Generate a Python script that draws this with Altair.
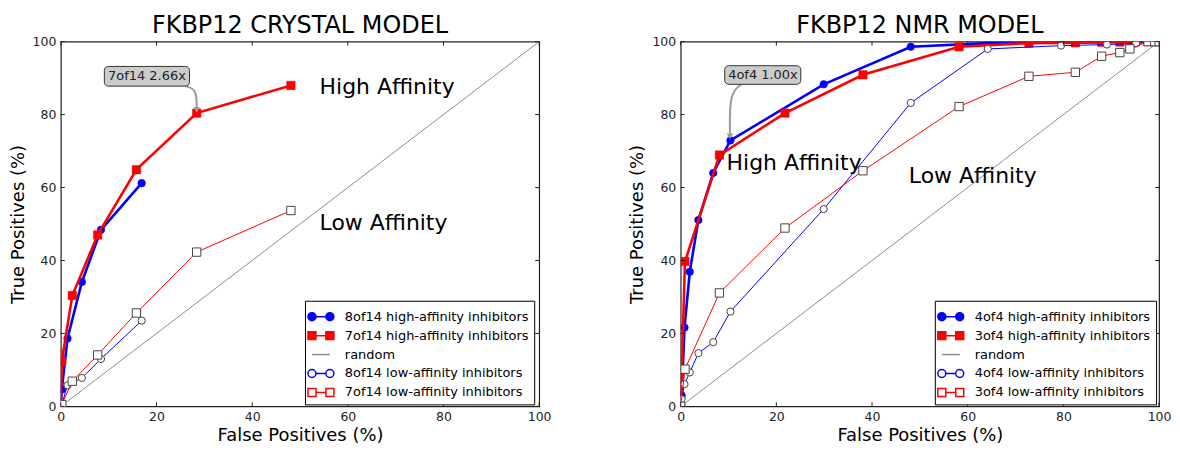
import altair as alt
import pandas as pd

FONT = "DejaVu Sans"
BLUE = "#0000ff"
RED = "#ff0000"
GRAY = "#8c8c8c"
W, H = 480, 366

tick_values = [0, 20, 40, 60, 80, 100]
random_fp = [0, 100]
random_tp = [0, 100]

# ---- FKBP12 crystal model ----
cry8_fp = [0, 0.2, 1.4, 4.4, 8.4, 16.9]
cry8_high = [0, 4.6, 18.6, 34.1, 48.4, 61.2]
cry8_low = [0, 0.5, 5.8, 7.8, 13.0, 23.5]
cry7_fp = [0, 0.2, 2.4, 7.7, 15.8, 28.4, 48.1]
cry7_high = [0, 12.4, 30.4, 47.0, 64.9, 80.4, 88.0]
cry7_low = [0, 0.5, 6.9, 14.1, 25.6, 42.3, 53.7]
cry_labels = ["8of14 high-affinity inhibitors", "7of14 high-affinity inhibitors", "random",
              "8of14 low-affinity inhibitors", "7of14 low-affinity inhibitors"]

# ---- FKBP12 NMR model ----
nmr4_fp = [0, 0.2, 0.8, 1.9, 3.7, 6.8, 10.4, 29.9, 48.1, 64.2, 79.5, 89.1, 95.2, 100]
nmr4_high = [0, 3.0, 21.6, 36.9, 51.1, 64.0, 72.9, 88.3, 98.6, 99.6, 99.8, 99.9, 100, 100]
nmr4_low = [0, 2.0, 6.1, 9.3, 14.6, 17.6, 26.0, 54.1, 83.2, 98.0, 98.9, 99.2, 99.5, 100]
nmr3_fp = [0, 0.9, 8.1, 21.8, 38.1, 58.2, 72.8, 82.5, 88.0, 91.8, 93.9, 97.7, 99.1, 100]
nmr3_high = [0, 39.7, 68.9, 80.4, 90.9, 98.6, 99.6, 99.7, 99.8, 99.9, 100, 100, 100, 100]
nmr3_low = [0, 10.2, 31.1, 48.9, 64.6, 82.2, 90.5, 91.6, 96.0, 97.0, 98.0, 100, 100, 100]
nmr_labels = ["4of4 high-affinity inhibitors", "3of4 high-affinity inhibitors", "random",
              "4of4 low-affinity inhibitors", "3of4 low-affinity inhibitors"]

# annotations (data coordinates)
cry_note = {"text": "7of14 2.66x", "box_x": [9.1, 26.9], "box_y": [87.8, 93.2], "tx": 18.0, "ty": 90.5,
            "arrow_x": [26.0, 28.4, 28.4], "arrow_y": [87.8, 87.0, 81.9]}
nmr_note = {"text": "4of4 1.00x", "box_x": [9.2, 25.1], "box_y": [88.3, 93.4], "tx": 17.2, "ty": 90.9,
            "arrow_x": [12.7, 10.2, 10.3], "arrow_y": [88.3, 86.0, 74.6]}
cry_texts = {"label": ["High Affinity", "Low Affinity"], "x": [54.1, 54.1], "y": [87.5, 50.4]}
nmr_texts = {"label": ["High Affinity", "Low Affinity"], "x": [9.6, 47.7], "y": [66.8, 63.2]}

CIRC = "M-1.3,0A0.4,0.4,0,1,0,-0.5,0A0.4,0.4,0,1,0,-1.3,0ZM0.5,0A0.4,0.4,0,1,0,1.3,0A0.4,0.4,0,1,0,0.5,0ZM-0.5,0L0.5,0"
SQR = "M-1.3,-0.4H-0.5V0.4H-1.3ZM0.5,-0.4H1.3V0.4H0.5ZM-0.5,0H0.5"
LINE = "M-0.9,0H0.9"

SC = alt.Scale(domain=[0, 100], nice=False, zero=False)


def X(field):
    return alt.X(field, type="quantitative", scale=SC,
                 axis=alt.Axis(values=tick_values, title="False Positives (%)", labelFlush=False))


def Y(field):
    return alt.Y(field, type="quantitative", scale=SC,
                 axis=alt.Axis(values=tick_values, title="True Positives (%)", labelFlush=False))


def curve(fp, tp, color, high, shape):
    df = pd.DataFrame({"fp": fp, "tp": tp, "i": list(range(len(fp)))})
    base = alt.Chart(df).encode(x=X("fp"), y=Y("tp"), order="i:Q")
    line = base.mark_line(color=color, strokeWidth=2.6 if high else 1.0, clip=True)
    if high:
        pts = base.mark_point(shape=shape, filled=True, fill=color, stroke=color, strokeWidth=0.5,
                              size=58 if shape == "circle" else 72, opacity=1, clip=True)
    else:
        pts = base.mark_point(shape=shape, filled=True, fill="white", stroke="#444", strokeWidth=1,
                              size=52 if shape == "circle" else 70, opacity=1, clip=True)
    return [line, pts]


def panel(title, s8, s7, labels, note, texts, lx, ly):
    ticks = pd.DataFrame({"v": tick_values})
    tc = "#222"
    tick_layers = [
        alt.Chart(ticks).mark_rule(color=tc, strokeWidth=1).encode(x=X("v"), y=alt.value(H), y2=alt.value(H - 4)),
        alt.Chart(ticks).mark_rule(color=tc, strokeWidth=1).encode(x=X("v"), y=alt.value(0), y2=alt.value(4)),
        alt.Chart(ticks).mark_rule(color=tc, strokeWidth=1).encode(y=Y("v"), x=alt.value(0), x2=alt.value(4)),
        alt.Chart(ticks).mark_rule(color=tc, strokeWidth=1).encode(y=Y("v"), x=alt.value(W - 4), x2=alt.value(W)),
    ]
    rnd = alt.Chart(pd.DataFrame({"fp": random_fp, "tp": random_tp})).mark_line(
        color=GRAY, strokeWidth=1).encode(x=X("fp"), y=Y("tp"))

    layers = []
    layers += curve(s8[0], s8[1], BLUE, True, "circle")
    layers += curve(s7[0], s7[1], RED, True, "square")
    layers.append(rnd)
    layers += curve(s8[0], s8[2], BLUE, False, "circle")
    layers += curve(s7[0], s7[2], RED, False, "square")

    # annotation
    arrow_df = pd.DataFrame({"fp": note["arrow_x"], "tp": note["arrow_y"], "i": [0, 1, 2]})
    arrow = alt.Chart(arrow_df).mark_line(interpolate="basis", color="#9a9a9a", strokeWidth=2).encode(
        x=X("fp"), y=Y("tp"), order="i:Q")
    head = alt.Chart(pd.DataFrame({"fp": [note["arrow_x"][-1]], "tp": [note["arrow_y"][-1] - 0.6]})).mark_point(
        shape="triangle-down", filled=True, color="#9a9a9a", size=45, opacity=1).encode(x=X("fp"), y=Y("tp"))
    box = alt.Chart(pd.DataFrame({"fp": [note["box_x"][0]], "fp2": [note["box_x"][1]],
                                  "tp": [note["box_y"][0]], "tp2": [note["box_y"][1]]})).mark_rect(
        fill="#cccccc", stroke="#333333", strokeWidth=1, cornerRadius=4).encode(
        x=X("fp"), x2="fp2", y=Y("tp"), y2="tp2")
    btxt = alt.Chart(pd.DataFrame({"fp": [note["tx"]], "tp": [note["ty"]], "t": [note["text"]]})).mark_text(
        font=FONT, fontSize=13, color="#222", align="center", baseline="middle").encode(
        x=X("fp"), y=Y("tp"), text="t:N")
    regions = alt.Chart(pd.DataFrame({"fp": texts["x"], "tp": texts["y"], "t": texts["label"]})).mark_text(
        font=FONT, fontSize=22, color="black", align="left", baseline="middle").encode(
        x=X("fp"), y=Y("tp"), text="t:N")

    leg = alt.Legend(orient="none", legendX=lx, legendY=ly, title=None, labelFont=FONT, labelFontSize=13,
                     labelColor="black", labelLimit=400, strokeColor="black", fillColor="white", padding=5,
                     rowPadding=1, symbolSize=400, symbolStrokeWidth=1.5, labelOffset=13, cornerRadius=0)
    legend_layer = alt.Chart(pd.DataFrame({"series": labels})).transform_filter("false").mark_point(
        opacity=1, strokeWidth=1.5, size=400).encode(
        stroke=alt.Stroke("series:N", scale=alt.Scale(domain=labels, range=[BLUE, RED, GRAY, BLUE, RED]), legend=leg),
        fill=alt.Fill("series:N", scale=alt.Scale(domain=labels, range=[BLUE, RED, "transparent", "white", "white"]), legend=leg),
        shape=alt.Shape("series:N", scale=alt.Scale(domain=labels, range=[CIRC, SQR, LINE, CIRC, SQR]), legend=leg),
    )

    all_layers = layers + [arrow, head, box, btxt, regions] + tick_layers + [legend_layer]
    return alt.layer(*all_layers).properties(
        width=W, height=H,
        title=alt.Title(title, font=FONT, fontSize=24, fontWeight="normal", color="black", anchor="middle", offset=-2),
    )


left = panel("FKBP12 CRYSTAL MODEL", (cry8_fp, cry8_high, cry8_low), (cry7_fp, cry7_high, cry7_low),
             cry_labels, cry_note, cry_texts, 245, 260)
right = panel("FKBP12 NMR MODEL", (nmr4_fp, nmr4_high, nmr4_low), (nmr3_fp, nmr3_high, nmr3_low),
              nmr_labels, nmr_note, nmr_texts, 255, 260)

chart = alt.hconcat(left, right, spacing=76).resolve_scale(
    stroke="independent", fill="independent", shape="independent"
).resolve_legend(stroke="independent", fill="independent", shape="independent").properties(
    padding={"left": 0, "top": 4, "right": 0, "bottom": 0}, background="white"
).configure_view(stroke="#222", strokeWidth=1.2).configure_axis(
    labelFont=FONT, labelFontSize=12.5, labelColor="#222", titleFont=FONT, titleFontSize=18,
    titleFontWeight="normal", titleColor="black", domain=False, ticks=False, grid=False
).configure_axisX(labelPadding=4, titlePadding=4).configure_axisY(labelPadding=5, titlePadding=5)

chart.save("out.html", embed_options={"renderer": "svg", "actions": False})
